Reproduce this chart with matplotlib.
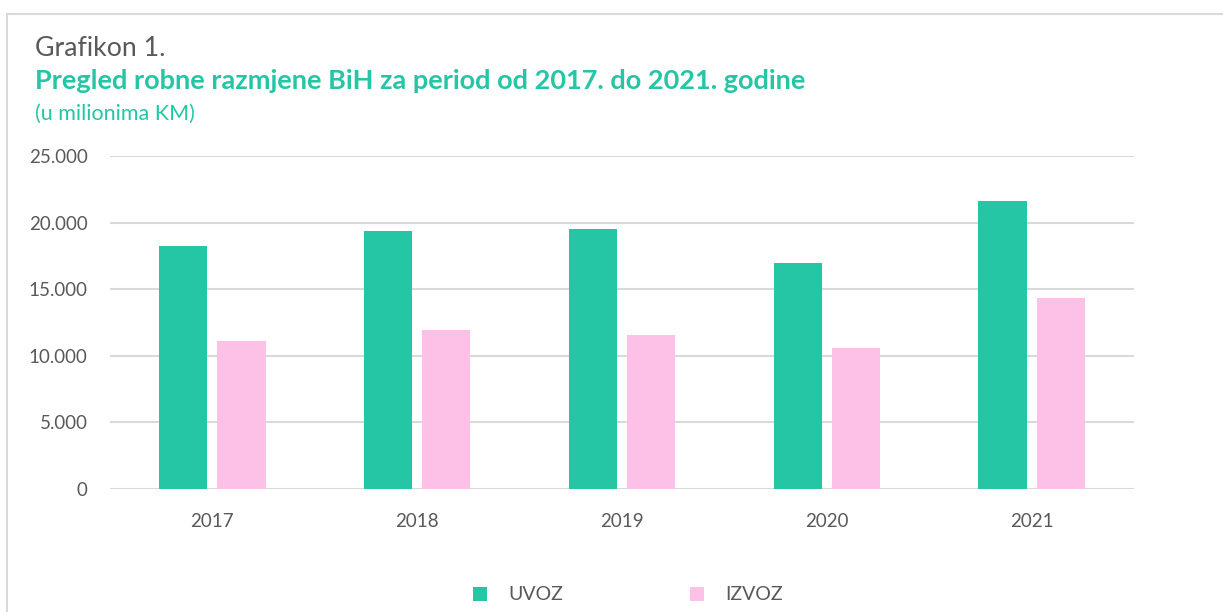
import matplotlib.pyplot as plt
import numpy as np
from matplotlib.patches import Rectangle
from matplotlib.ticker import FuncFormatter

plt.rcParams['font.family'] = ['Lato', 'DejaVu Sans']

godine = ['2017', '2018', '2019', '2020', '2021']
uvoz = [18250, 19350, 19550, 16970, 21650]
izvoz = [11100, 11950, 11560, 10580, 14340]

zelena = '#24C6A6'
roza = '#FDC1E8'
siva = '#595959'

fig = plt.figure(figsize=(12.23, 6.12), dpi=100)
W, H = 1223, 612

# okvir oko grafikona
fig.patches.append(Rectangle((7 / W, -0.2), 1.2, 1.2 - 14 / H, transform=fig.transFigure,
                             fill=False, edgecolor='#D9D9D9', linewidth=1.5))

ax = fig.add_axes([110 / W, 1 - 489 / H, 1024 / W, 333 / H])

x = np.arange(len(godine))
sirina = 0.235
razmak = 0.049
ax.bar(x - (sirina + razmak) / 2, uvoz, sirina, color=zelena, label='UVOZ', zorder=3)
ax.bar(x + (sirina + razmak) / 2, izvoz, sirina, color=roza, label='IZVOZ', zorder=3)

ax.set_xlim(-0.5, len(godine) - 0.5)
ax.set_ylim(0, 25000)
ax.set_yticks(range(0, 25001, 5000))
ax.yaxis.set_major_formatter(FuncFormatter(lambda v, p: f'{int(v):,}'.replace(',', '.')))
ax.set_xticks(x)
ax.set_xticklabels(godine)
ax.tick_params(axis='both', length=0, labelsize=13.5, colors=siva)
ax.tick_params(axis='x', pad=17)
ax.tick_params(axis='y', pad=16)
ax.grid(axis='y', color='#D9D9D9', linewidth=1.5, zorder=0)
for s in ax.spines.values():
    s.set_visible(False)

fig.text(35 / W, 1 - 56 / H, 'Grafikon 1.', fontsize=19.2, color=siva, va='baseline')
fig.text(35 / W, 1 - 89 / H, 'Pregled robne razmjene BiH za period od 2017. do 2021. godine',
         fontsize=19.5, color=zelena, fontweight='bold', va='baseline')
fig.text(35 / W, 1 - 120 / H, '(u milionima KM)', fontsize=15.5, color=zelena, va='baseline')

leg = fig.legend(loc='center', bbox_to_anchor=(628 / W, 1 - 595 / H), ncol=2, frameon=False,
                 fontsize=14, handlelength=0.72, handleheight=0.72, columnspacing=6.5,
                 handletextpad=1.1)
for t in leg.get_texts():
    t.set_color(siva)

plt.savefig('out.png', dpi=100)
